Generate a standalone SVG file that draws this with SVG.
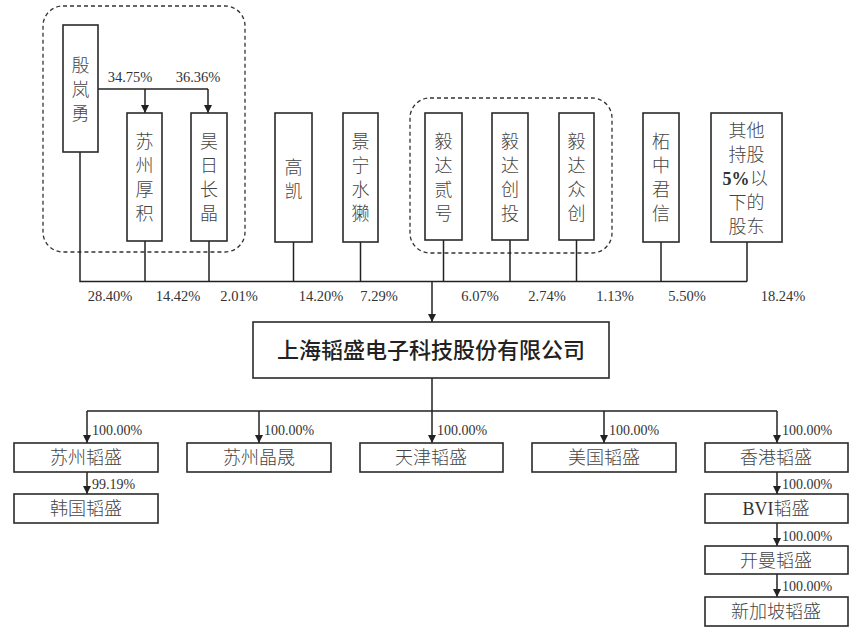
<svg xmlns="http://www.w3.org/2000/svg" width="865" height="637" viewBox="0 0 865 637">
<style>
.box{fill:#fff;stroke:#2a2a2a;stroke-width:1.6}
.grp{fill:none;stroke:#333;stroke-width:1.3;stroke-dasharray:4 3}
.ln{fill:none;stroke:#222;stroke-width:1.5}
.v{font-family:"Noto Sans CJK SC","Liberation Serif",sans-serif;font-size:18px;fill:#444;text-anchor:middle;font-weight:300}
.t{font-family:"Noto Sans CJK SC","Liberation Serif",sans-serif;font-size:22px;fill:#222;text-anchor:middle;font-weight:500}
.p{font-family:"Liberation Serif",serif;font-size:14.5px;fill:#333;text-anchor:middle}
.ps{font-family:"Liberation Serif",serif;font-size:14px;fill:#333;text-anchor:start}
.b5{font-family:"Liberation Serif",serif;font-weight:bold;font-size:18px;fill:#333;text-anchor:middle}
</style>
<defs>
<marker id="ar" viewBox="0 0 10 10" refX="10" refY="5" markerWidth="8" markerHeight="8" markerUnits="userSpaceOnUse" orient="auto">
<path d="M0,0 L10,5 L0,10 z" fill="#222"/>
</marker>
</defs>
<rect class="grp" x="43" y="6" width="202" height="246" rx="20"/>
<rect class="grp" x="410" y="98" width="202" height="155" rx="20"/>
<g id="connectors">
<path class="ln" d="M98,89 H208"/>
<path class="ln" d="M145,89 V113" marker-end="url(#ar)"/>
<path class="ln" d="M208,89 V113" marker-end="url(#ar)"/>
<path class="ln" d="M80,152 V281.5 H747"/>
<path class="ln" d="M145,241 V281.5 M209,241 V281.5 M293.5,242 V281.5 M360.5,242 V281.5 M443.5,240 V281.5 M510,240 V281.5 M576.5,240 V281.5 M661,242 V281.5 M747,242 V281.5"/>
<path class="ln" d="M432,281.5 V322" marker-end="url(#ar)"/>
<path class="ln" d="M432,378 V411 M87,411 H777"/>
<path class="ln" d="M87,411 V443" marker-end="url(#ar)"/>
<path class="ln" d="M259,411 V443" marker-end="url(#ar)"/>
<path class="ln" d="M432,411 V443" marker-end="url(#ar)"/>
<path class="ln" d="M604,411 V443" marker-end="url(#ar)"/>
<path class="ln" d="M777,411 V443" marker-end="url(#ar)"/>
<path class="ln" d="M87,472 V494" marker-end="url(#ar)"/>
<path class="ln" d="M777,472 V494" marker-end="url(#ar)"/>
<path class="ln" d="M777,523 V546" marker-end="url(#ar)"/>
<path class="ln" d="M777,574 V597" marker-end="url(#ar)"/>
<text class="p" x="130" y="82">34.75%</text>
<text class="p" x="198" y="82">36.36%</text>
<text class="p" x="110" y="301">28.40%</text>
<text class="p" x="178" y="301">14.42%</text>
<text class="p" x="239" y="301">2.01%</text>
<text class="p" x="321" y="301">14.20%</text>
<text class="p" x="379" y="301">7.29%</text>
<text class="p" x="480" y="301">6.07%</text>
<text class="p" x="547" y="301">2.74%</text>
<text class="p" x="615" y="301">1.13%</text>
<text class="p" x="687" y="301">5.50%</text>
<text class="p" x="783" y="301">18.24%</text>
<text class="ps" x="92" y="435">100.00%</text>
<text class="ps" x="264" y="435">100.00%</text>
<text class="ps" x="437" y="435">100.00%</text>
<text class="ps" x="609" y="435">100.00%</text>
<text class="ps" x="782" y="435">100.00%</text>
<text class="ps" x="92" y="489">99.19%</text>
<text class="ps" x="782" y="489">100.00%</text>
<text class="ps" x="782" y="541">100.00%</text>
<text class="ps" x="782" y="591">100.00%</text>
</g>
<g id="n-yinlanyong"><rect class="box" x="63" y="25" width="35" height="127"/>
<text class="v" x="80.5" y="72">殷</text><text class="v" x="80.5" y="96">岚</text><text class="v" x="80.5" y="120">勇</text></g>
<g id="n-suzhouhouji"><rect class="box" x="127" y="113" width="35" height="128"/>
<text class="v" x="144.5" y="148">苏</text><text class="v" x="144.5" y="172">州</text><text class="v" x="144.5" y="196">厚</text><text class="v" x="144.5" y="220">积</text></g>
<g id="n-haorichangjing"><rect class="box" x="191" y="113" width="36" height="128"/>
<text class="v" x="209" y="148">昊</text><text class="v" x="209" y="172">日</text><text class="v" x="209" y="196">长</text><text class="v" x="209" y="220">晶</text></g>
<g id="n-gaokai"><rect class="box" x="275" y="113" width="37" height="129"/>
<text class="v" x="293.5" y="174">高</text><text class="v" x="293.5" y="198">凯</text></g>
<g id="n-jingningshuita"><rect class="box" x="343" y="113" width="35" height="129"/>
<text class="v" x="360.5" y="148">景</text><text class="v" x="360.5" y="172">宁</text><text class="v" x="360.5" y="196">水</text><text class="v" x="360.5" y="220">獭</text></g>
<g id="n-yida2"><rect class="box" x="425" y="113" width="37" height="127"/>
<text class="v" x="443.5" y="148">毅</text><text class="v" x="443.5" y="172">达</text><text class="v" x="443.5" y="196">贰</text><text class="v" x="443.5" y="220">号</text></g>
<g id="n-yidachuangtou"><rect class="box" x="492" y="113" width="36" height="127"/>
<text class="v" x="510" y="148">毅</text><text class="v" x="510" y="172">达</text><text class="v" x="510" y="196">创</text><text class="v" x="510" y="220">投</text></g>
<g id="n-yidazhongchuang"><rect class="box" x="559" y="113" width="35" height="127"/>
<text class="v" x="576.5" y="148">毅</text><text class="v" x="576.5" y="172">达</text><text class="v" x="576.5" y="196">众</text><text class="v" x="576.5" y="220">创</text></g>
<g id="n-zhezhongjunxin"><rect class="box" x="643" y="113" width="36" height="129"/>
<text class="v" x="661" y="148">柘</text><text class="v" x="661" y="172">中</text><text class="v" x="661" y="196">君</text><text class="v" x="661" y="220">信</text></g>
<g id="n-others"><rect class="box" x="711" y="113" width="71" height="129"/>
<text class="v" x="746.5" y="137">其他</text>
<text class="v" x="746.5" y="161">持股</text>
<text class="b5" x="736" y="185">5%</text><text class="v" x="759" y="185">以</text>
<text class="v" x="746.5" y="209">下的</text>
<text class="v" x="746.5" y="233">股东</text></g>
<g id="n-main"><rect class="box" x="253" y="322" width="356" height="56"/>
<text class="t" x="431" y="358">上海韬盛电子科技股份有限公司</text></g>
<g id="n-suzhoutaosheng"><rect class="box" x="14" y="443" width="144" height="29"/><text class="v" x="86" y="464">苏州韬盛</text></g>
<g id="n-suzhoujingsheng"><rect class="box" x="187" y="443" width="144" height="29"/><text class="v" x="259" y="464">苏州晶晟</text></g>
<g id="n-tianjin"><rect class="box" x="360" y="443" width="143" height="29"/><text class="v" x="431" y="464">天津韬盛</text></g>
<g id="n-usa"><rect class="box" x="532" y="443" width="144" height="29"/><text class="v" x="604" y="464">美国韬盛</text></g>
<g id="n-hk"><rect class="box" x="705" y="443" width="143" height="29"/><text class="v" x="776" y="464">香港韬盛</text></g>
<g id="n-korea"><rect class="box" x="14" y="494" width="144" height="29"/><text class="v" x="86" y="515">韩国韬盛</text></g>
<g id="n-bvi"><rect class="box" x="705" y="494" width="143" height="29"/><text class="v" x="776" y="515"><tspan font-family="Liberation Serif" font-weight="normal" fill="#333">BVI</tspan>韬盛</text></g>
<g id="n-cayman"><rect class="box" x="705" y="546" width="143" height="28"/><text class="v" x="776" y="567">开曼韬盛</text></g>
<g id="n-singapore"><rect class="box" x="705" y="597" width="143" height="29"/><text class="v" x="776" y="618">新加坡韬盛</text></g>
</svg>
